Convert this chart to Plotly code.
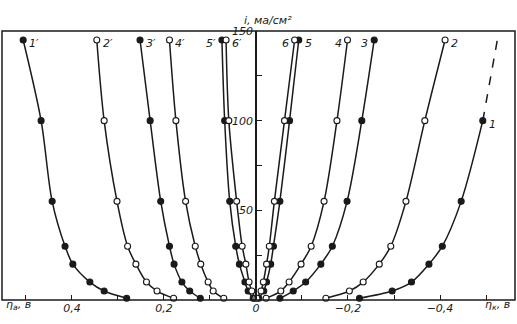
import plotly.graph_objects as go

# current density, ma/cm^2, of the measured points
i_vals = [1, 5, 10, 20, 30, 55, 100, 145]

# anodic overpotentials (plotted to the left)
eta_a = {
    "1′": [0.281, 0.330, 0.361, 0.398, 0.415, 0.443, 0.467, 0.506],
    "2′": [0.179, 0.215, 0.238, 0.261, 0.279, 0.302, 0.330, 0.346],
    "3′": [0.121, 0.144, 0.161, 0.178, 0.188, 0.207, 0.230, 0.252],
    "4′": [0.070, 0.093, 0.104, 0.120, 0.132, 0.153, 0.174, 0.188],
    "5′": [0.006, 0.017, 0.024, 0.036, 0.044, 0.057, 0.068, 0.074],
    "6′": [0.002, 0.009, 0.015, 0.022, 0.030, 0.042, 0.059, 0.065],
}
# cathodic overpotentials (plotted to the right)
eta_k = {
    "1": [-0.225, -0.296, -0.338, -0.376, -0.405, -0.446, -0.493],
    "2": [-0.152, -0.203, -0.233, -0.268, -0.293, -0.326, -0.367, -0.411],
    "3": [-0.052, -0.081, -0.108, -0.141, -0.166, -0.198, -0.230, -0.257],
    "4": [-0.022, -0.054, -0.072, -0.098, -0.120, -0.148, -0.176, -0.199],
    "5": [-0.006, -0.017, -0.023, -0.032, -0.038, -0.052, -0.073, -0.093],
    "6": [-0.002, -0.011, -0.016, -0.023, -0.029, -0.040, -0.062, -0.084],
}
# dashed extrapolation of curve 1
ext1_i = [100, 147]
ext1_eta = [-0.493, -0.526]

filled = {"1′", "3′", "5′", "1", "3", "5"}

x_ticks = [0.4, 0.2, 0, -0.2, -0.4]
x_ticktext = ["0,4", "0,2", "0", "−0,2", "−0,4"]
y_ticks = [50, 100, 150]

INK = "#1a1a1a"
fig = go.Figure()

for name, xs in list(eta_a.items()) + list(eta_k.items()):
    ys = i_vals[:len(xs)]
    fig.add_trace(go.Scatter(
        x=xs, y=ys, mode="lines+markers",
        line=dict(color=INK, width=1.5, shape="spline", smoothing=0.9),
        marker=dict(size=6, symbol="circle",
                    color=INK if name in filled else "white",
                    line=dict(color=INK, width=1.1)),
        showlegend=False, cliponaxis=False,
    ))

fig.add_trace(go.Scatter(
    x=ext1_eta, y=ext1_i, mode="lines",
    line=dict(color=INK, width=1.5, dash="dash"),
    showlegend=False,
))

# curve labels
lab_font = dict(family="DejaVu Sans", size=11, color=INK, style="italic")
labels = [
    ("1′", eta_a["1′"][-1], 145, "left"),
    ("2′", eta_a["2′"][-1], 145, "left"),
    ("3′", eta_a["3′"][-1], 145, "left"),
    ("4′", eta_a["4′"][-1], 145, "left"),
    ("5′", eta_a["5′"][-1], 145, "right"),
    ("6′", eta_a["6′"][-1], 145, "left"),
    ("6", eta_k["6"][-1], 145, "right"),
    ("5", eta_k["5"][-1], 145, "left"),
    ("4", eta_k["4"][-1], 145, "right"),
    ("3", eta_k["3"][-1], 145, "right"),
    ("2", eta_k["2"][-1], 145, "left"),
    ("1", eta_k["1"][-1], 100, "left"),
]
for txt, x, y, side in labels:
    fig.add_annotation(x=x, y=y, text=txt, showarrow=False, font=lab_font,
                       xanchor=side, yanchor="middle", yshift=-4,
                       xshift=4 if side == "left" else -4)

ax_font = dict(family="DejaVu Sans", size=11, color=INK, style="italic")
fig.add_annotation(xref="paper", yref="paper", x=0.518, y=1.07,
                   text="i, ма/см²", showarrow=False, font=ax_font)
fig.add_annotation(xref="paper", yref="paper", x=0.004, y=-0.052,
                   text="η<sub>а</sub>, в", showarrow=False, font=ax_font,
                   xanchor="left")
fig.add_annotation(xref="paper", yref="paper", x=0.995, y=-0.052,
                   text="η<sub>к</sub>, в", showarrow=False, font=ax_font,
                   xanchor="right")

# frame
fig.add_shape(type="rect", xref="paper", yref="paper", x0=0, x1=1, y0=0, y1=1,
              line=dict(color=INK, width=1.5))

fig.update_layout(
    width=517, height=324,
    margin=dict(l=2, r=2, t=31, b=24, autoexpand=False),
    plot_bgcolor="white", paper_bgcolor="white",
    xaxis=dict(range=[0.552, -0.563], showgrid=False, zeroline=False,
               automargin=False,
               tickvals=x_ticks, ticktext=x_ticktext, ticks="inside",
               ticklen=5, tickcolor=INK, tickfont=ax_font,
               minor=dict(dtick=0.1, tick0=0, ticks="inside", ticklen=5,
                          tickcolor=INK, showgrid=False),
               showline=False),
    yaxis=dict(range=[0, 150], showgrid=False, zeroline=False,
               automargin=False,
               anchor="free", position=0.495,
               tickvals=y_ticks, ticks="inside", ticklen=5, tickcolor=INK,
               tickfont=ax_font, showline=True, linecolor=INK, linewidth=1.5,
               minor=dict(dtick=25, tick0=0, ticks="inside", ticklen=5,
                          tickcolor=INK, showgrid=False)),
)

fig.write_html("out.html",
               config={"displayModeBar": False},
               post_script="document.body.style.margin='0';"
                           "document.body.style.padding='0';")
